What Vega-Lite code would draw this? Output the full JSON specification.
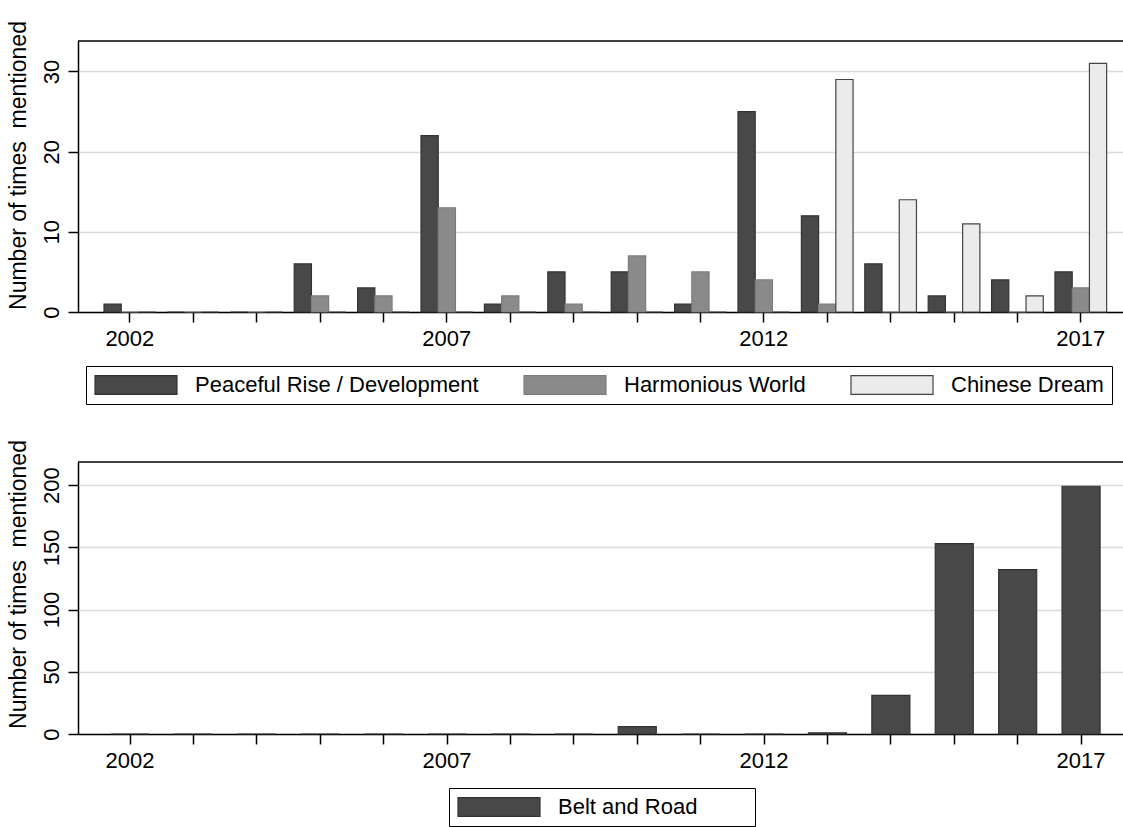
{
  "$schema": "https://vega.github.io/schema/vega-lite/v6.json",
  "padding": {"left": 6, "top": 20, "right": 0, "bottom": 0},
  "background": "white",
  "config": {
    "view": {"stroke": null},
    "font": "Liberation Sans",
    "axis": {
      "labelFont": "Liberation Sans", "titleFont": "Liberation Sans",
      "labelColor": "black", "titleColor": "black",
      "domainColor": "black", "tickColor": "black",
      "domainWidth": 1.5, "tickWidth": 1.5, "tickSize": 10,
      "labelFontSize": 22, "titleFontSize": 23, "titleFontWeight": "normal",
      "gridColor": "#dcdcdc", "gridWidth": 1.5
    },
    "legend": {
      "labelFont": "Liberation Sans", "labelFontSize": 22, "labelColor": "black",
      "labelLimit": 500,
      "strokeColor": "black", "fillColor": "white",
      "symbolType": "M-1,-0.23H1V0.23H-1Z", "symbolSize": 6724,
      "symbolStrokeColor": "#333333", "symbolStrokeWidth": 1.2, "symbolOpacity": 1,
      "clipHeight": 22,
      "labelOffset": 17
    }
  },
  "datasets": {
    "ideas": [
      {"year": 2002, "series": "Peaceful Rise / Development", "count": 1},
      {"year": 2003, "series": "Peaceful Rise / Development", "count": 0},
      {"year": 2004, "series": "Peaceful Rise / Development", "count": 0},
      {"year": 2005, "series": "Peaceful Rise / Development", "count": 6},
      {"year": 2006, "series": "Peaceful Rise / Development", "count": 3},
      {"year": 2007, "series": "Peaceful Rise / Development", "count": 22},
      {"year": 2008, "series": "Peaceful Rise / Development", "count": 1},
      {"year": 2009, "series": "Peaceful Rise / Development", "count": 5},
      {"year": 2010, "series": "Peaceful Rise / Development", "count": 5},
      {"year": 2011, "series": "Peaceful Rise / Development", "count": 1},
      {"year": 2012, "series": "Peaceful Rise / Development", "count": 25},
      {"year": 2013, "series": "Peaceful Rise / Development", "count": 12},
      {"year": 2014, "series": "Peaceful Rise / Development", "count": 6},
      {"year": 2015, "series": "Peaceful Rise / Development", "count": 2},
      {"year": 2016, "series": "Peaceful Rise / Development", "count": 4},
      {"year": 2017, "series": "Peaceful Rise / Development", "count": 5},
      {"year": 2002, "series": "Harmonious World", "count": 0},
      {"year": 2003, "series": "Harmonious World", "count": 0},
      {"year": 2004, "series": "Harmonious World", "count": 0},
      {"year": 2005, "series": "Harmonious World", "count": 2},
      {"year": 2006, "series": "Harmonious World", "count": 2},
      {"year": 2007, "series": "Harmonious World", "count": 13},
      {"year": 2008, "series": "Harmonious World", "count": 2},
      {"year": 2009, "series": "Harmonious World", "count": 1},
      {"year": 2010, "series": "Harmonious World", "count": 7},
      {"year": 2011, "series": "Harmonious World", "count": 5},
      {"year": 2012, "series": "Harmonious World", "count": 4},
      {"year": 2013, "series": "Harmonious World", "count": 1},
      {"year": 2014, "series": "Harmonious World", "count": 0},
      {"year": 2015, "series": "Harmonious World", "count": 0},
      {"year": 2016, "series": "Harmonious World", "count": 0},
      {"year": 2017, "series": "Harmonious World", "count": 3},
      {"year": 2002, "series": "Chinese Dream", "count": 0},
      {"year": 2003, "series": "Chinese Dream", "count": 0},
      {"year": 2004, "series": "Chinese Dream", "count": 0},
      {"year": 2005, "series": "Chinese Dream", "count": 0},
      {"year": 2006, "series": "Chinese Dream", "count": 0},
      {"year": 2007, "series": "Chinese Dream", "count": 0},
      {"year": 2008, "series": "Chinese Dream", "count": 0},
      {"year": 2009, "series": "Chinese Dream", "count": 0},
      {"year": 2010, "series": "Chinese Dream", "count": 0},
      {"year": 2011, "series": "Chinese Dream", "count": 0},
      {"year": 2012, "series": "Chinese Dream", "count": 0},
      {"year": 2013, "series": "Chinese Dream", "count": 29},
      {"year": 2014, "series": "Chinese Dream", "count": 14},
      {"year": 2015, "series": "Chinese Dream", "count": 11},
      {"year": 2016, "series": "Chinese Dream", "count": 2},
      {"year": 2017, "series": "Chinese Dream", "count": 31}
    ],
    "bri": [
      {"year": 2002, "series": "Belt and Road", "count": 0},
      {"year": 2003, "series": "Belt and Road", "count": 0},
      {"year": 2004, "series": "Belt and Road", "count": 0},
      {"year": 2005, "series": "Belt and Road", "count": 0},
      {"year": 2006, "series": "Belt and Road", "count": 0},
      {"year": 2007, "series": "Belt and Road", "count": 0},
      {"year": 2008, "series": "Belt and Road", "count": 0},
      {"year": 2009, "series": "Belt and Road", "count": 0},
      {"year": 2010, "series": "Belt and Road", "count": 6},
      {"year": 2011, "series": "Belt and Road", "count": 0},
      {"year": 2012, "series": "Belt and Road", "count": 0},
      {"year": 2013, "series": "Belt and Road", "count": 1},
      {"year": 2014, "series": "Belt and Road", "count": 31},
      {"year": 2015, "series": "Belt and Road", "count": 153},
      {"year": 2016, "series": "Belt and Road", "count": 132},
      {"year": 2017, "series": "Belt and Road", "count": 199}
    ]
  },
  "spacing": 150,
  "bounds": "flush",
  "resolve": {
    "scale": {"x": "independent", "y": "independent", "color": "independent", "stroke": "independent"},
    "legend": {"color": "independent"}
  },
  "vconcat": [
    {
      "width": 1046,
      "height": 271,
      "layer": [
        {
          "data": {"name": "ideas"},
          "mark": {"type": "bar", "strokeWidth": 1.2},
          "encoding": {
            "x": {
              "field": "year", "type": "ordinal",
              "scale": {"domain": [2002,2003,2004,2005,2006,2007,2008,2009,2010,2011,2012,2013,2014,2015,2016,2017], "paddingInner": 0.185, "paddingOuter": 0.342, "align": 0.6},
              "axis": {"title": null, "labelAngle": 0, "labelPadding": 6, "labelExpr": "datum.value % 5 == 2 ? datum.label : ''", "grid": false}
            },
            "xOffset": {
              "field": "series", "type": "nominal",
              "sort": ["Peaceful Rise / Development", "Harmonious World", "Chinese Dream"],
              "scale": {"domain": ["Peaceful Rise / Development", "Harmonious World", "Chinese Dream"], "paddingInner": 0, "paddingOuter": 0}
            },
            "y": {
              "field": "count", "type": "quantitative",
              "scale": {"domain": [0, 33.8], "nice": false},
              "axis": {"title": "Number of times\u00a0 mentioned", "values": [0, 10, 20, 30], "grid": true, "labelAngle": -90, "labelAlign": "center", "labelBaseline": "bottom", "labelPadding": 5, "titlePadding": 10, "titleY": 124}
            },
            "color": {
              "field": "series", "type": "nominal",
              "scale": {"domain": ["Peaceful Rise / Development", "Harmonious World", "Chinese Dream"], "range": ["#484848", "#8a8a8a", "#ebebeb"]},
              "legend": {"orient": "none", "legendX": 8, "legendY": 325, "direction": "horizontal", "columns": 3, "columnPadding": 44, "padding": 8, "title": null}
            },
            "stroke": {
              "field": "series", "type": "nominal",
              "scale": {"domain": ["Peaceful Rise / Development", "Harmonious World", "Chinese Dream"], "range": ["#333333", "#7c7c7c", "#444444"]},
              "legend": null
            }
          }
        },
        {
          "data": {"values": [{"top": 33.8}]},
          "mark": {"type": "rule", "color": "black", "strokeWidth": 1.5},
          "encoding": {"y": {"field": "top", "type": "quantitative"}}
        }
      ]
    },
    {
      "width": 1046,
      "height": 272,
      "layer": [
        {
          "data": {"name": "bri"},
          "mark": {"type": "bar", "strokeWidth": 1.2, "stroke": "#333333"},
          "encoding": {
            "x": {
              "field": "year", "type": "ordinal",
              "scale": {"domain": [2002,2003,2004,2005,2006,2007,2008,2009,2010,2011,2012,2013,2014,2015,2016,2017], "paddingInner": 0.4, "paddingOuter": 0.449, "align": 0.58},
              "axis": {"title": null, "labelAngle": 0, "labelPadding": 6, "labelExpr": "datum.value % 5 == 2 ? datum.label : ''", "grid": false}
            },
            "y": {
              "field": "count", "type": "quantitative",
              "scale": {"domain": [0, 218.5], "nice": false},
              "axis": {"title": "Number of times\u00a0 mentioned", "values": [0, 50, 100, 150, 200], "grid": true, "labelAngle": -90, "labelAlign": "center", "labelBaseline": "bottom", "labelPadding": 5, "titlePadding": 10, "titleY": 122}
            },
            "color": {
              "field": "series", "type": "nominal",
              "scale": {"domain": ["Belt and Road"], "range": ["#484848"]},
              "legend": {"orient": "none", "legendX": 371, "legendY": 326, "direction": "horizontal", "columns": 1, "padding": 8, "title": "\u00a0", "titleOrient": "right", "titlePadding": 50, "titleFontSize": 22}
            }
          }
        },
        {
          "data": {"values": [{"top": 218.5}]},
          "mark": {"type": "rule", "color": "black", "strokeWidth": 1.5},
          "encoding": {"y": {"field": "top", "type": "quantitative"}}
        }
      ]
    }
  ]
}
